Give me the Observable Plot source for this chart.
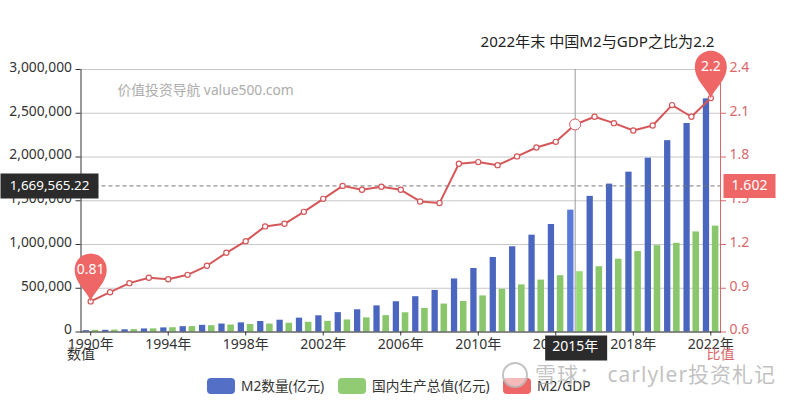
<!DOCTYPE html>
<html><head><meta charset="utf-8">
<script src="https://cdn.jsdelivr.net/npm/d3@7"></script>
<script src="https://cdn.jsdelivr.net/npm/@observablehq/plot@0.6"></script>
<style>
html,body{margin:0;padding:0;background:#fff;width:800px;height:400px;overflow:hidden}
body{position:relative;font-family:"Noto Sans","Noto Sans CJK SC",sans-serif}
#chart{position:absolute;left:0;top:0}
.lg{position:absolute;top:378px;height:16px;line-height:16px;font-size:13.7px;color:#333;white-space:nowrap}
.sw{position:absolute;top:378px;width:28px;height:16px;border-radius:4px}
#wm{position:absolute;left:535px;top:358px;font-size:21px;line-height:32px;color:rgba(170,170,170,.72);white-space:nowrap;letter-spacing:1px}
#logo{position:absolute;left:502px;top:362px;width:22px;height:22px;border:2.5px solid rgba(175,175,175,.75);border-radius:50%;background:rgba(255,255,255,.55)}
</style></head><body>
<div id="chart"></div>
<div class="sw" style="left:207px;background:#5470c6"></div><div class="lg" style="left:241px">M2数量(亿元)</div>
<div class="sw" style="left:338px;background:#91cc75"></div><div class="lg" style="left:372px">国内生产总值(亿元)</div>
<div class="sw" style="left:503px;background:#ee6666"></div><div class="lg" style="left:537px">M2/GDP</div>
<div id="logo"></div><div id="wm">雪球： carlyler投资札记</div>
<script>
const years=[1990,1991,1992,1993,1994,1995,1996,1997,1998,1999,2000,2001,2002,2003,2004,2005,2006,2007,2008,2009,2010,2011,2012,2013,2014,2015,2016,2017,2018,2019,2020,2021,2022];
const m2=[15293,19349,25402,34880,46924,60751,76095,90995,104499,119898,134610,158302,185007,221223,254107,298756,345578,403442,475167,606225,725852,851591,974159,1106525,1228375,1392278,1550067,1690235,1826744,1986488,2186796,2382900,2664320];
const gdp=[18873,22006,27195,35673,48638,61340,71814,79715,85196,90564,100280,110863,121717,137422,161840,187319,219439,270092,319245,348518,412119,487940,538580,592963,643563,688858,746395,832036,919281,986515,1013567,1143670,1210207];
const ratio=[0.81,0.873,0.935,0.972,0.962,0.992,1.054,1.143,1.223,1.324,1.342,1.424,1.513,1.602,1.575,1.596,1.575,1.495,1.484,1.754,1.765,1.744,1.804,1.865,1.904,2.023,2.076,2.032,1.982,2.016,2.156,2.076,2.204];
const yTicks=[0,500000,1000000,1500000,2000000,2500000,3000000];
const xTicks=[1990,1994,1998,2002,2006,2010,2014,2018,2022];
const pins=[{year:1990,ratio:0.81,label:"0.81"},{year:2022,ratio:2.2,label:"2.2"}];
const hoverYear=2015, hoverValue=1669565.22, hoverRatio=1.602;

const FONT='"Noto Sans","Noto Sans CJK SC",sans-serif';
const RED="#ee6666", AXRED="#d9686b", LINE="#d5575a", DARK="#2b2b2b";
const table=years.map((year,i)=>({year,m2:m2[i],gdp:gdp[i],ratio:ratio[i]}));
const toLeft=r=>(r-0.6)/1.8*3000000;
const toRight=v=>0.6+v/3000000*1.8;
const pin={draw(c){c.moveTo(0,0);c.bezierCurveTo(-3,-10,-16,-18,-16,-32);c.arc(0,-32,16,Math.PI,0);c.bezierCurveTo(16,-18,3,-10,0,0);c.closePath();}};
const box=(x0,y0,x1,y1)=>({draw(c){c.rect(x0,y0,x1-x0,y1-y0);}});

const plot=Plot.plot({
  width:800,height:400,marginLeft:80.5,marginRight:80,marginTop:69,marginBottom:68.5,
  style:{fontFamily:FONT,fontSize:"14px",background:"transparent",overflow:"visible"},
  x:{type:"band",domain:years,padding:0,round:false,axis:null},
  y:{domain:[0,3000000],axis:null},
  marks:[
    Plot.gridY(yTicks,{stroke:"#c8c8c8",strokeOpacity:1,strokeWidth:1}),
    Plot.text(["价值投资导航 value500.com"],{frameAnchor:"top-left",lineAnchor:"middle",dx:36.5,dy:21,fill:"#adadad",fontSize:13.8}),
    Plot.ruleX([hoverYear],{stroke:"#999",strokeWidth:1}),
    Plot.barY(table,{x:"year",y:"m2",fill:d=>d.year===hoverYear?"#5a7ad8":"#4a66bf",insetLeft:2.2,insetRight:10.9}),
    Plot.barY(table,{x:"year",y:"gdp",fill:d=>d.year===hoverYear?"#96da78":"#8ac76c",insetLeft:11.2,insetRight:1.6}),
    Plot.ruleY([hoverValue],{stroke:"#777",strokeDasharray:"4 3",strokeWidth:1}),
    Plot.frame({anchor:"left",stroke:"#333"}),
    Plot.frame({anchor:"right",stroke:AXRED}),
    Plot.frame({anchor:"bottom",stroke:"#333"}),
    Plot.axisY(yTicks,{anchor:"left",label:null,tickSize:5,color:"#333",tickFormat:()=>""}),
    Plot.axisY(yTicks,{anchor:"right",label:null,tickSize:5,color:AXRED,tickFormat:()=>""}),
    Plot.text(yTicks,{y:d=>d,frameAnchor:"left",dx:-9,dy:-2,textAnchor:"end",lineAnchor:"middle",fill:"#333",fontSize:13.8,text:d3.format(",")}),
    Plot.text(yTicks,{y:d=>d,frameAnchor:"right",dx:9,dy:-2,textAnchor:"start",lineAnchor:"middle",fill:AXRED,fontSize:14,text:v=>toRight(v).toFixed(1)}),
    Plot.axisX(xTicks,{anchor:"bottom",label:null,tickSize:4,tickPadding:3,color:"#333",tickFormat:d=>d+"年"}),
    Plot.text(["数值"],{frameAnchor:"bottom-left",lineAnchor:"middle",dy:23,textAnchor:"middle",fill:"#333",fontSize:14}),
    Plot.text(["比值"],{frameAnchor:"bottom-right",lineAnchor:"middle",dy:23,textAnchor:"middle",fill:AXRED,fontSize:14}),
    Plot.line(table,{x:"year",y:d=>toLeft(d.ratio),stroke:LINE,strokeWidth:2}),
    Plot.dot(table,{x:"year",y:d=>toLeft(d.ratio),r:2.6,fill:"#fff",stroke:LINE,strokeWidth:1.2}),
    Plot.dot([hoverYear],{x:d=>d,y:()=>toLeft(ratio[years.indexOf(hoverYear)]),r:5.5,fill:"#fff",stroke:LINE,strokeWidth:1}),
    Plot.dot(pins,{x:"year",y:d=>toLeft(d.ratio),symbol:pin,fill:RED,stroke:"none",r:5}),
    Plot.text(pins,{x:"year",y:d=>toLeft(d.ratio),text:"label",dy:-32,lineAnchor:"middle",fill:"#fff",fontSize:14}),
    Plot.text(["2022年末 中国M2与GDP之比为2.2"],{frameAnchor:"top-right",lineAnchor:"middle",dx:-6,dy:-27,fill:"#222",fontSize:15.1}),
    Plot.dot([hoverValue],{y:d=>d,frameAnchor:"left",symbol:box(-80.5,-12.5,17.5,12.5),fill:DARK,stroke:"none",r:5}),
    Plot.text([hoverValue],{y:d=>d,frameAnchor:"left",dx:-31.5,text:d=>d3.format(",.2f")(d),textAnchor:"middle",lineAnchor:"middle",fill:"#fff",fontSize:13.4}),
    Plot.dot([hoverRatio],{y:toLeft,frameAnchor:"right",symbol:box(3,-12,55,12),fill:RED,stroke:"none",r:5}),
    Plot.text([hoverRatio],{y:toLeft,frameAnchor:"right",dx:29,text:d=>d.toFixed(3),textAnchor:"middle",lineAnchor:"middle",fill:"#fff",fontSize:14}),
    Plot.dot([hoverYear],{x:d=>d,frameAnchor:"bottom",symbol:box(-30,3.5,32,28.5),fill:DARK,stroke:"none",r:5}),
    Plot.text([hoverYear],{x:d=>d,frameAnchor:"bottom",dy:15,lineAnchor:"middle",text:d=>d+"年",fill:"#fff",fontSize:14})
  ]
});
document.getElementById("chart").append(plot);
</script>
</body></html>
